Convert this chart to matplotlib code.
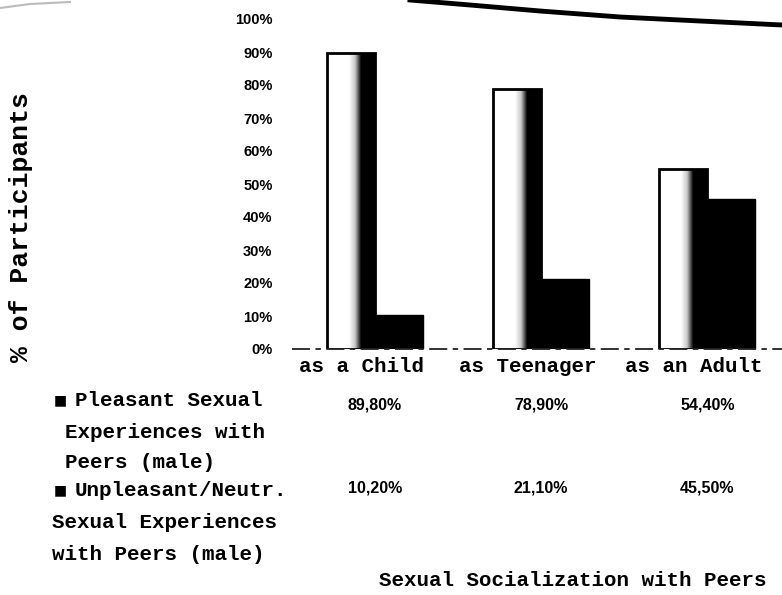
import numpy as np
import matplotlib.pyplot as plt
import matplotlib.transforms as mtransforms
from matplotlib.colors import LinearSegmentedColormap
from matplotlib.lines import Line2D

categories = ['as a Child', 'as Teenager', 'as an Adult']
pleasant = [89.8, 78.9, 54.4]
unpleasant = [10.2, 21.1, 45.5]
pleasant_text = ['89,80%', '78,90%', '54,40%']
unpleasant_text = ['10,20%', '21,10%', '45,50%']
yticks = list(range(0, 101, 10))
pleasant_name = ['Pleasant Sexual', 'Experiences with', 'Peers (male)']
unpleasant_name = ['Unpleasant/Neutr.', 'Sexual Experiences', 'with Peers (male)']

W, H = 782, 595
MONO = 'Liberation Mono'
SANS = 'Liberation Sans'


def fx(x):
    return x / W


def fy(y):
    return 1 - y / H


fig = plt.figure(figsize=(W / 100, H / 100), dpi=100)
fig.patch.set_facecolor('white')
ax = fig.add_axes([fx(292), fy(349), fx(782) - fx(292), fy(19) - fy(349)])

x = np.arange(len(categories))
bw = 0.29

# pleasant bars: white -> black gradient (scan look)
grad = np.clip((np.linspace(0, 1, 200) - 0.45) / 0.25, 0, 1).reshape(1, -1)
cmap = LinearSegmentedColormap.from_list('wb', ['white', '#c8c8c8', 'black'])
bars = ax.bar(x - bw / 2, pleasant, width=bw, fc='none', ec='black', lw=2, zorder=3)
for b in bars:
    im = ax.imshow(grad, cmap=cmap, vmin=0, vmax=1, aspect='auto', zorder=2,
                   extent=[b.get_x(), b.get_x() + b.get_width(), 0, b.get_height()])
    im.set_clip_path(b)

ax.bar(x + bw / 2, unpleasant, width=bw, fc='black', ec='black', lw=1, zorder=3)

ax.set_xlim(-0.5, 2.45)
ax.set_ylim(0, 100)
ax.set_yticks(yticks, [f'{t}%' for t in yticks], fontfamily=SANS, fontsize=10.5,
              fontweight='bold')
ax.set_xticks(x - 0.08, categories, fontfamily=MONO, fontsize=15, fontweight='bold')
ax.tick_params(axis='y', length=0, pad=14)
ax.tick_params(axis='x', length=0, pad=6)
for s in ax.spines.values():
    s.set_visible(False)
ax.axhline(0, color='#222222', lw=1.3, ls=(0, (10, 3, 3, 3)), zorder=4, clip_on=False)

ax.set_ylabel('% of Participants', fontfamily=MONO, fontsize=19, fontweight='bold')
ax.yaxis.set_label_coords((33 - 292) / (782 - 292), 0.37)

# data table under the chart
tr = mtransforms.blended_transform_factory(ax.transData, fig.transFigure)
for i in range(len(categories)):
    ax.text(x[i], fy(405), pleasant_text[i], transform=tr, ha='center', va='center',
            fontfamily=SANS, fontsize=11.5, fontweight='bold')
    ax.text(x[i], fy(488), unpleasant_text[i], transform=tr, ha='center', va='center',
            fontfamily=SANS, fontsize=11.5, fontweight='bold')

# row labels with legend keys
rows = [(pleasant_name, [400, 432, 463], [75, 65, 65]),
        (unpleasant_name, [490, 523, 555], [75, 52, 52])]
for lines, ys, xs in rows:
    fig.text(fx(60), fy(ys[0]), '■', ha='center', va='center', fontsize=10, color='black')
    for txt, yy, xx in zip(lines, ys, xs):
        fig.text(fx(xx), fy(yy), txt, ha='left', va='center', fontfamily=MONO,
                 fontsize=15, fontweight='bold')

fig.text(fx(573), fy(580), 'Sexual Socialization with Peers', ha='center', va='center',
         fontfamily=MONO, fontsize=15, fontweight='bold')

# scanned page edge at the top
fig.add_artist(Line2D([fx(410), fx(470), fx(540), fx(620), fx(700), fx(782)],
                      [fy(0), fy(5), fy(11), fy(17), fy(21), fy(25)],
                      transform=fig.transFigure, color='black', lw=3.5))
fig.add_artist(Line2D([fx(0), fx(30), fx(70)], [fy(8), fy(4), fy(2)],
                      transform=fig.transFigure, color='#bbbbbb', lw=1.5))

fig.savefig('out.png', dpi=100)
